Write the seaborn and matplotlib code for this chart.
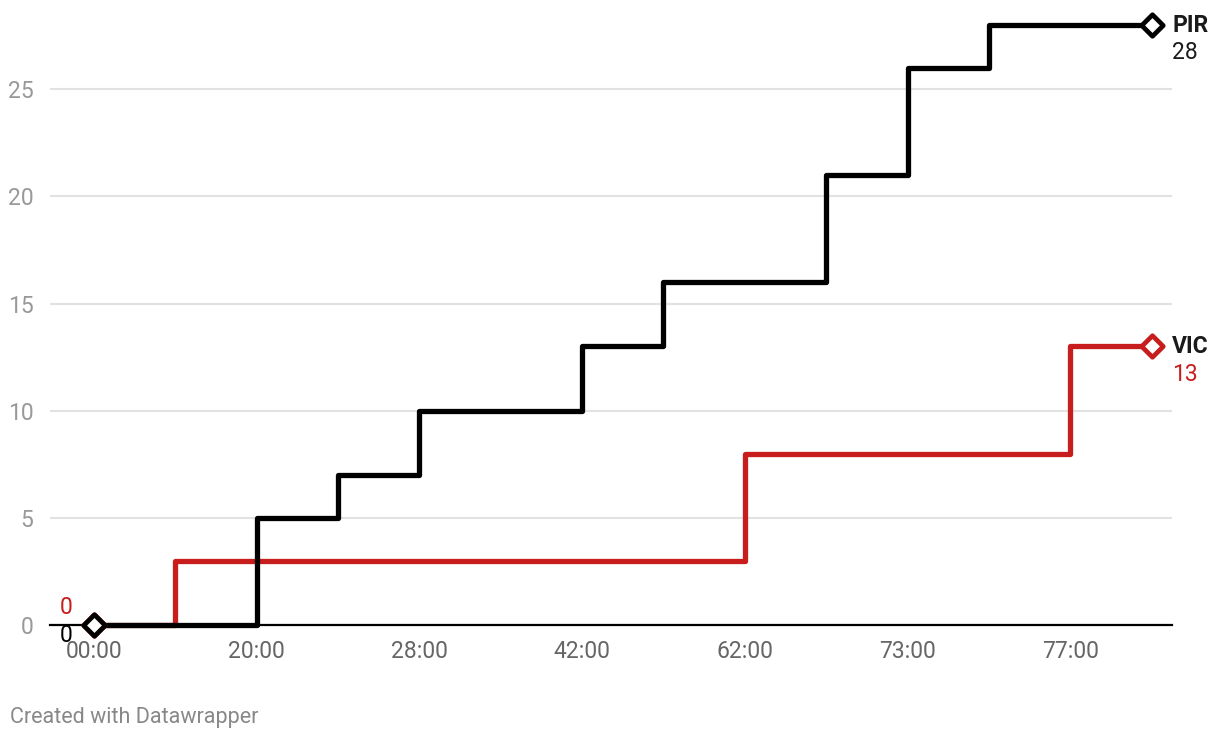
import pandas as pd
import matplotlib.pyplot as plt
import seaborn as sns

# minute marks (categorical x axis, every other one labelled)
minutes = ["00:00", "10:00", "20:00", "24:00", "28:00", "35:00", "42:00",
           "52:00", "62:00", "68:00", "73:00", "75:00", "77:00", "80:00"]
pir_points = [0, 0, 5, 7, 10, 10, 13, 16, 16, 21, 26, 28, 28, 28]
vic_points = [0, 3, 3, 3, 3, 3, 3, 3, 8, 8, 8, 8, 13, 13]
teams = ["PIR", "VIC"]
team_colors = {"PIR": "#000000", "VIC": "#c71e1d"}
y_ticks = [0, 5, 10, 15, 20, 25]

df = pd.concat([
    pd.DataFrame({"idx": range(len(minutes)), "score": pir_points, "team": "PIR"}),
    pd.DataFrame({"idx": range(len(minutes)), "score": vic_points, "team": "VIC"}),
])

sns.set_style("white")
plt.rcParams["font.family"] = ["Roboto", "DejaVu Sans"]

fig = plt.figure(figsize=(12.2, 7.42), dpi=100)
ax = fig.add_axes([50 / 1220, 117 / 742, 1122 / 1220, 600 / 742])

# draw VIC first so PIR sits on top
for team in ["VIC", "PIR"]:
    sub = df[df["team"] == team]
    sns.lineplot(data=sub, x="idx", y="score", ax=ax, color=team_colors[team],
                 linewidth=3.8, drawstyle="steps-post", clip_on=False, zorder=3)
    first, last = sub.iloc[0], sub.iloc[-1]
    ax.scatter([first["idx"], last["idx"]], [first["score"], last["score"]],
               marker="D", s=120, facecolor="white", edgecolor=team_colors[team],
               linewidth=3.4, zorder=5, clip_on=False)

ax.set_xlim(-0.54, 13.25)
ax.set_ylim(0, 28)
ax.set_xticks(range(0, len(minutes), 2))
ax.set_xticklabels(minutes[::2])
ax.set_yticks(y_ticks)
ax.set_xlabel("")
ax.set_ylabel("")
ax.tick_params(axis="x", colors="#666666", labelsize=16.5, length=0, pad=11)
ax.tick_params(axis="y", colors="#999999", labelsize=16.5, length=0, pad=12)
for lab in ax.get_yticklabels():
    lab.set_horizontalalignment("right")

ax.grid(axis="y", color="#e2e2e2", linewidth=1.5)
ax.grid(axis="x", visible=False)
for s in ["left", "right", "top"]:
    ax.spines[s].set_visible(False)
ax.spines["bottom"].set_color("#000000")
ax.spines["bottom"].set_linewidth(1.6)

# end labels
n = len(minutes) - 1
ax.text(n + 0.25, pir_points[-1], "PIR", fontsize=16.5, fontweight="bold",
        color="#1a1a1a", va="center", ha="left", clip_on=False)
ax.text(n + 0.25, pir_points[-1] - 1.3, str(pir_points[-1]), fontsize=16.5,
        color="#1a1a1a", va="center", ha="left", clip_on=False)
ax.text(n + 0.25, vic_points[-1], "VIC", fontsize=16.5, fontweight="bold",
        color="#1a1a1a", va="center", ha="left", clip_on=False)
ax.text(n + 0.25, vic_points[-1] - 1.3, str(vic_points[-1]), fontsize=16.5,
        color=team_colors["VIC"], va="center", ha="left", clip_on=False)

# start labels
ax.text(-0.26, 0.8, str(vic_points[0]), fontsize=16.5, color=team_colors["VIC"],
        va="center", ha="right", clip_on=False)
ax.text(-0.26, -0.5, str(pir_points[0]), fontsize=16.5, color="#000000",
        va="center", ha="right", clip_on=False)

fig.text(10 / 1220, 1 - 717 / 742, "Created with Datawrapper", fontsize=15.5,
         color="#888888", va="center", ha="left")

plt.savefig("out.png", dpi=100)
